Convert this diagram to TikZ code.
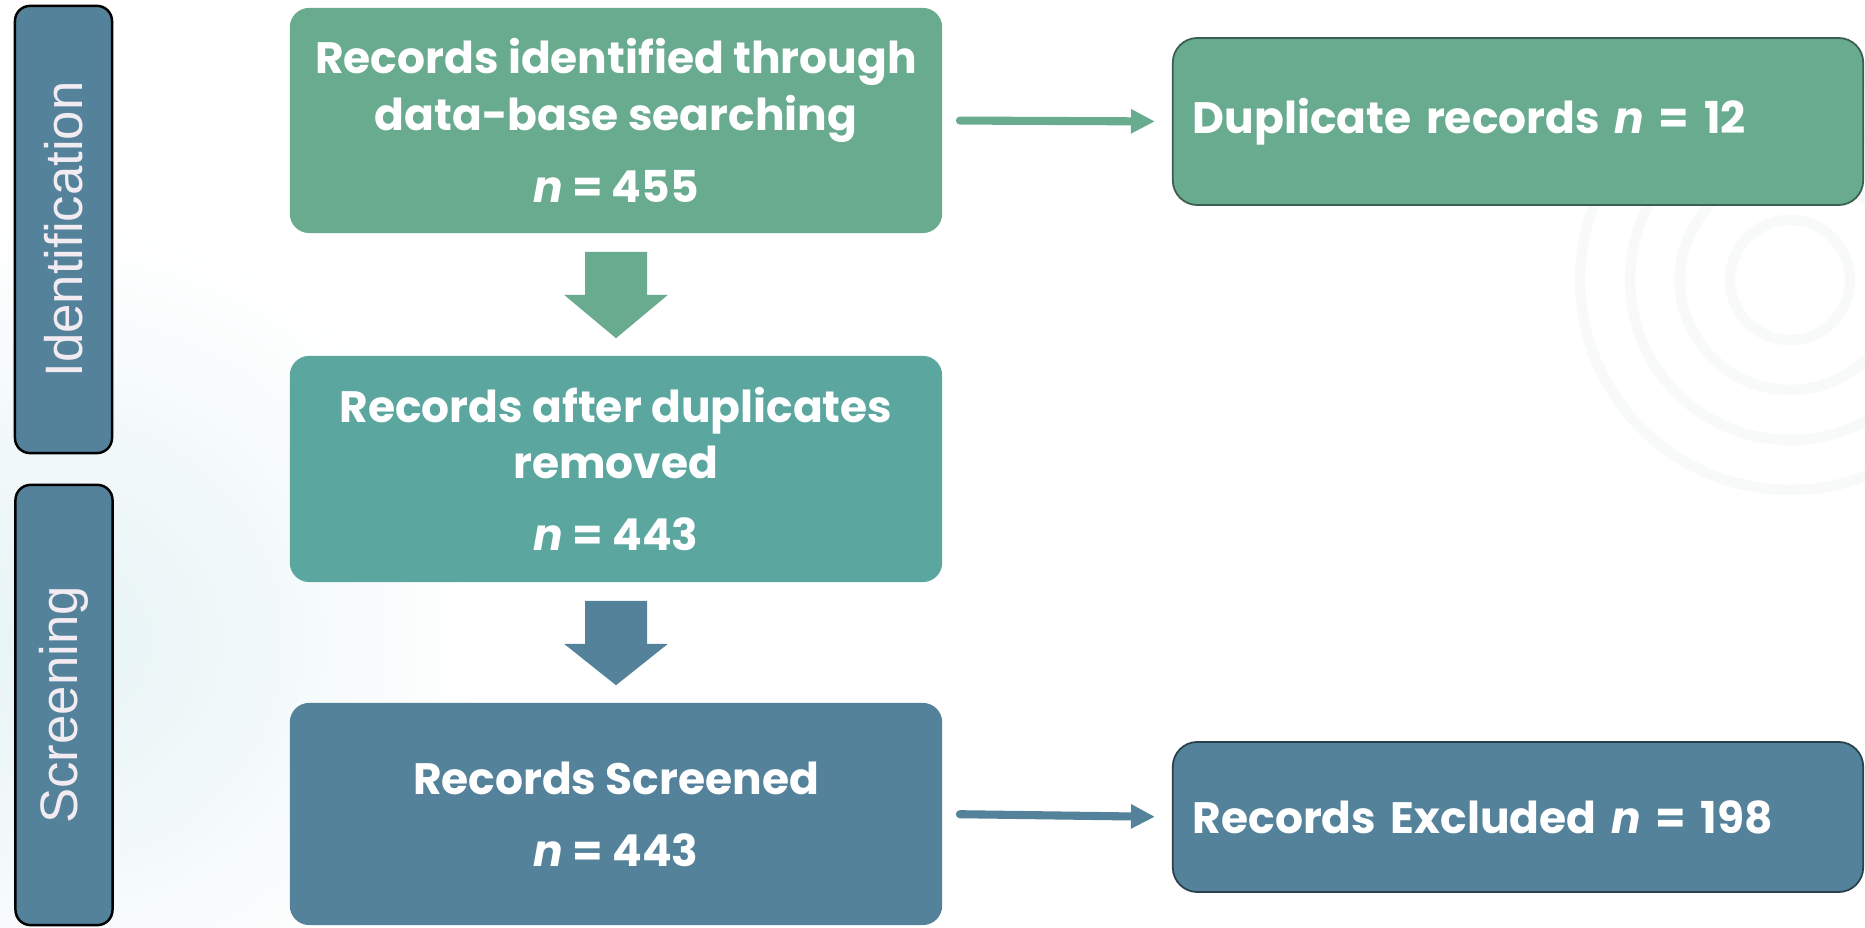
\documentclass[tikz,border=0pt]{standalone}
\usepackage{fontspec}
\setmainfont{Poppins}
\newfontfamily\tabfont{Liberation Sans}
\usetikzlibrary{arrows.meta,calc}

\definecolor{stepgreen}{HTML}{69AB8F}
\definecolor{stepteal}{HTML}{5CA6A0}
\definecolor{stepblue}{HTML}{53829A}
\definecolor{tablabel}{HTML}{F2ECF2}
\definecolor{haze}{HTML}{E6F3F5}
\definecolor{ring}{HTML}{F8FAFA}

% block arrow pointing down from the bottom of #2 to the top of #3
\newcommand\downblock[3]{%
  \fill[#1] ($(#2.south)+(-31,18)$) -- ($(#2.south)+(31,18)$)
    -- ($(#2.south)+(31,61)$) -- ($(#2.south)+(52,61)$)
    -- ($(#3.north)+(0,-17)$)
    -- ($(#2.south)+(-52,61)$) -- ($(#2.south)+(-31,61)$) -- cycle;}

\begin{document}
\begin{tikzpicture}[x=0.01cm,y=-0.01cm,
  flowbox/.style={rounded corners=5.5pt, minimum width=6.52cm, text=white,
    font=\bfseries\fontsize{12.5}{16}\selectfont, align=center, inner sep=0pt},
  sidebox/.style={rounded corners=7pt, minimum width=6.9cm, text=white,
    font=\bfseries\fontsize{12.5}{16}\selectfont, inner sep=0pt, line width=0.5pt},
  phasetab/.style={rounded corners=4.3pt, draw=black, line width=0.7pt, fill=stepblue,
    minimum width=0.97cm, inner sep=0pt},
  phaselabel/.style={text=tablabel, font=\tabfont\fontsize{15}{18}\selectfont, rotate=90},
  linkarrow/.style={line width=2.3pt, line cap=round, shorten <=0.17cm, shorten >=0.17cm,
    -{Triangle[length=6.8pt,width=6.5pt]}}]

  % page and faint background decoration
  \fill[white] (0,0) rectangle (1865,928);
  \useasboundingbox (0,0) rectangle (1865,928);
  \shade[inner color=haze, outer color=white] (60,640) circle (420);
  \foreach \r in {60,110,160,210}
    \draw[ring, line width=3pt] (1790,280) circle (\r);

  % phase tabs
  \node[phasetab, minimum height=4.47cm] (tabA) at (63.5,229.5) {};
  \node[phaselabel] at (tabA.center) {Identification};
  \node[phasetab, minimum height=4.40cm] (tabB) at (64,705) {};
  \node[phaselabel] at (tabB.center) {Screening};

  % main flow
  \node[flowbox, fill=stepgreen, minimum height=2.25cm] (b1) at (616,120.5)
    {Records identified through\\data-base searching\\[4.5pt]\textit{n} = 455};
  \node[flowbox, fill=stepteal, minimum height=2.26cm] (b2) at (616,469)
    {Records after duplicates\\removed\\[4.5pt]\textit{n} = 443};
  \node[flowbox, fill=stepblue, minimum height=2.22cm] (b3) at (616,814)
    {Records Screened\\[4.5pt]\textit{n} = 443};

  % side outcomes
  \node[sidebox, fill=stepgreen, draw=stepgreen!55!black, minimum height=1.67cm,
    text width=6.5cm, align=left] (dup) at (1518,121.5)
    {Duplicate records \textit{n} = 12};
  \node[sidebox, fill=stepblue, draw=stepblue!50!black, minimum height=1.50cm,
    text width=6.5cm, align=left] (excl) at (1518,817)
    {Records Excluded \textit{n} = 198};

  % connectors
  \downblock{stepgreen}{b1}{b2}
  \downblock{stepblue}{b2}{b3}
  \draw[linkarrow, stepgreen] (b1.east) -- (dup.west);
  \draw[linkarrow, stepblue] (b3.east) -- (excl.west);
\end{tikzpicture}
\end{document}
